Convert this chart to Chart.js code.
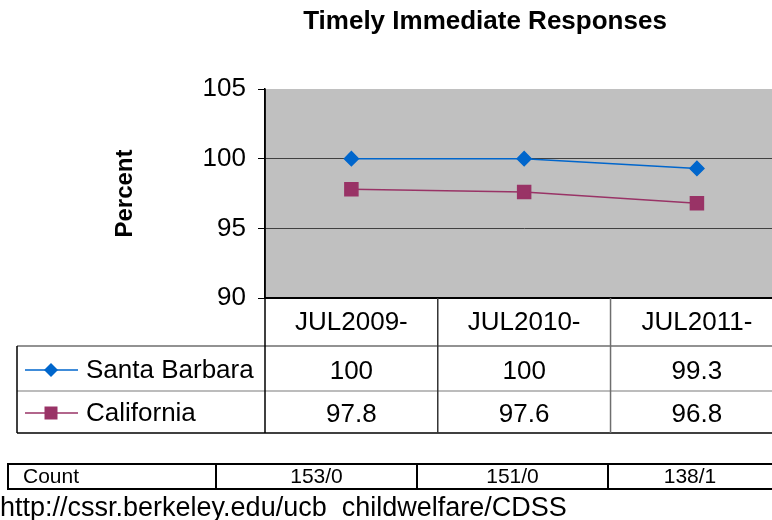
<!DOCTYPE html>
<html>
<head>
<meta charset="utf-8">
<title>Timely Immediate Responses</title>
<script src="https://cdn.jsdelivr.net/npm/chart.js@4/dist/chart.umd.min.js"></script>
<style>
  html, body { margin: 0; padding: 0; background: #fff; overflow: hidden; }
  #wrap { width: 794px; height: 520px; }
</style>
</head>
<body>
<div id="wrap"><canvas id="chart" width="794" height="520"></canvas></div>
<script>
const periods = ["JUL2009-", "JUL2010-", "JUL2011-"];
const santaBarbara = [100, 100, 99.3];
const california = [97.8, 97.6, 96.8];
const counts = ["153/0", "151/0", "138/1"];

const FONT = "'Liberation Sans', Arial, sans-serif";

function marker(ctx, style, x, y, color) {
    ctx.save();
    ctx.fillStyle = color;
    ctx.beginPath();
    if (style === "rectRot") {
        ctx.moveTo(x, y - 7);
        ctx.lineTo(x + 7, y);
        ctx.lineTo(x, y + 7);
        ctx.lineTo(x - 7, y);
        ctx.closePath();
    } else {
        ctx.rect(x - 6.5, y - 6.5, 13, 13);
    }
    ctx.fill();
    ctx.restore();
}

function hline(ctx, x1, x2, y, color, w) {
    ctx.strokeStyle = color; ctx.lineWidth = w;
    ctx.beginPath(); ctx.moveTo(x1, y); ctx.lineTo(x2, y); ctx.stroke();
}
function vline(ctx, x, y1, y2, color, w) {
    ctx.strokeStyle = color; ctx.lineWidth = w;
    ctx.beginPath(); ctx.moveTo(x, y1); ctx.lineTo(x, y2); ctx.stroke();
}

// gray plot background
const plotBg = {
    id: "plotBg",
    beforeDraw(chart) {
        const { ctx, chartArea: a } = chart;
        ctx.save();
        ctx.fillStyle = "#c0c0c0";
        ctx.fillRect(a.left, a.top, a.right - a.left, a.bottom - a.top);
        ctx.restore();
    }
};

// title, data table under the x axis, count table and source line
const tables = {
    id: "tables",
    afterDraw(chart) {
        const { ctx, chartArea: a, width } = chart;
        const x = chart.scales.x;
        const cw = x.width / periods.length;
        const headBottom = 346, rowMid = 391, tableBottom = 433;
        const legLeft = 17;

        ctx.save();
        ctx.fillStyle = "#000";
        ctx.textBaseline = "middle";

        ctx.font = "bold 26px " + FONT;
        ctx.textAlign = "center";
        ctx.fillText("Timely Immediate Responses", 485, 22);

        // grid of the data table
        hline(ctx, legLeft, width, headBottom, "#6e6e6e", 1.5);
        hline(ctx, legLeft, width, rowMid, "#7a7a7a", 1.2);
        hline(ctx, legLeft, width, tableBottom, "#000", 1.5);
        vline(ctx, legLeft, headBottom, tableBottom, "#000", 1.5);
        vline(ctx, a.left, a.top, tableBottom, "#000", 1.5);
        for (let i = 1; i < periods.length; i++) {
            const bx = x.getPixelForValue(i) - cw / 2;
            vline(ctx, bx, a.bottom, tableBottom, i === 1 ? "#333" : "#6e6e6e", 1.5);
        }

        ctx.font = "26px " + FONT;
        ctx.textAlign = "center";
        periods.forEach((p, i) => ctx.fillText(p, x.getPixelForValue(i), 323));

        const rows = [
            { name: "Santa Barbara", data: santaBarbara, color: "#0066cc", style: "rectRot", y: 370 },
            { name: "California", data: california, color: "#993366", style: "rect", y: 413 }
        ];
        rows.forEach(r => {
            hline(ctx, 25, 78, r.y, r.color, 1.5);
            marker(ctx, r.style, 51, r.y, r.color);
            ctx.fillStyle = "#000";
            ctx.textAlign = "left";
            ctx.fillText(r.name, 86, r.y + 1);
            ctx.textAlign = "center";
            r.data.forEach((v, i) => ctx.fillText(String(v), x.getPixelForValue(i), r.y + 2));
        });

        // count table
        const cols = [8, 216, 417, 608, 772];
        const cTop = 464, cBot = 489;
        ctx.lineCap = "square";
        hline(ctx, cols[0], width, cTop, "#000", 2);
        hline(ctx, cols[0], width, cBot, "#000", 2);
        cols.slice(0, 4).forEach(cx => vline(ctx, cx, cTop, cBot, "#000", 2));
        ctx.font = "21px " + FONT;
        ctx.textAlign = "left";
        ctx.fillText("Count", 23, (cTop + cBot) / 2 + 1);
        ctx.textAlign = "center";
        counts.forEach((c, i) => ctx.fillText(c, (cols[i + 1] + cols[i + 2]) / 2, (cTop + cBot) / 2 + 1));

        ctx.font = "27px " + FONT;
        ctx.textAlign = "left";
        ctx.textBaseline = "alphabetic";
        ctx.fillText("http://cssr.berkeley.edu/ucb  childwelfare/CDSS", 0, 516);
        ctx.restore();
    }
};

new Chart(document.getElementById("chart"), {
    type: "line",
    data: {
        labels: periods,
        datasets: [
            {
                label: "Santa Barbara",
                data: santaBarbara,
                borderColor: "#0066cc",
                backgroundColor: "#0066cc",
                borderWidth: 1.5,
                pointStyle: "rectRot",
                pointRadius: 7,
                pointHoverRadius: 7,
                tension: 0
            },
            {
                label: "California",
                data: california,
                borderColor: "#993366",
                backgroundColor: "#993366",
                borderWidth: 1.5,
                pointStyle: "rect",
                pointRadius: 9.2,
                pointHoverRadius: 9.2,
                tension: 0
            }
        ]
    },
    options: {
        responsive: false,
        animation: false,
        layout: { padding: { top: 89, left: 0, right: 0, bottom: 0 } },
        plugins: {
            legend: { display: false },
            title: { display: false },
            tooltip: { enabled: false }
        },
        scales: {
            x: {
                type: "category",
                offset: true,
                grid: { display: false },
                border: { display: true, color: "#000", width: 2 },
                ticks: { display: false },
                afterFit(scale) { scale.height = 222; }
            },
            y: {
                min: 90,
                max: 105,
                ticks: {
                    stepSize: 5,
                    color: "#000",
                    padding: 12,
                    font: { family: FONT, size: 26 }
                },
                grid: {
                    color: c => (c.tick && c.tick.value === 105) ? "rgba(0,0,0,0)" : "#404040",
                    tickColor: "#000",
                    tickLength: 7,
                    lineWidth: 1
                },
                border: { display: true, color: "#000", width: 1.5 },
                title: {
                    display: true,
                    text: "Percent",
                    color: "#000",
                    font: { family: FONT, size: 24, weight: "bold" },
                    padding: { top: 111, bottom: 0 }
                },
                afterFit(scale) { scale.width = 265; }
            }
        }
    },
    plugins: [plotBg, tables]
});
</script>
</body>
</html>
